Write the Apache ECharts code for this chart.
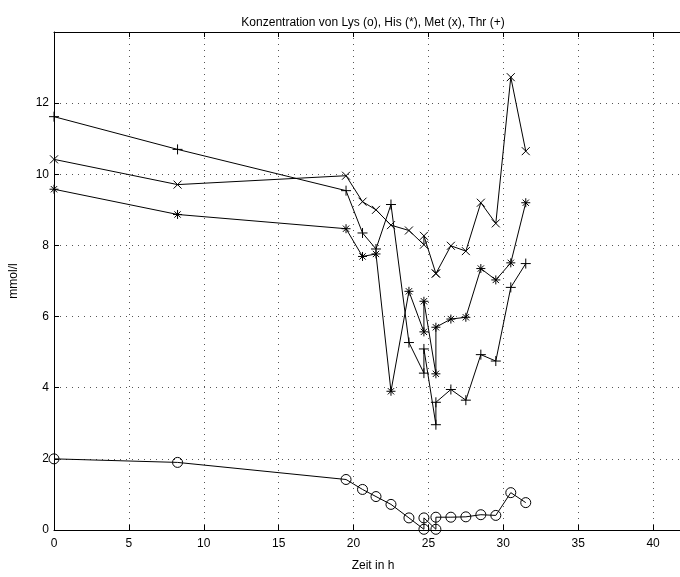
<!DOCTYPE html>
<html>
<head>
<meta charset="utf-8">
<script src="https://cdn.jsdelivr.net/npm/echarts@6/dist/echarts.min.js"></script>
<style>
html,body{margin:0;padding:0;background:#fff;overflow:hidden;width:680px;height:577px;}
#chart{width:700px;height:577px;}
</style>
</head>
<body>
<div id="chart"></div>
<script>
// Time points (h)
var time = [0, 8.25, 19.5, 20.6, 21.5, 22.5, 23.7, 24.7, 24.7, 25.5, 25.5, 26.5, 27.5, 28.5, 29.5, 30.5, 31.5];
// Concentrations (mmol/l)
var lys = [2.0, 1.9, 1.42, 1.14, 0.94, 0.72, 0.34, 0.02, 0.34, 0.02, 0.36, 0.36, 0.37, 0.43, 0.41, 1.05, 0.77];
var his = [9.58, 8.87, 8.47, 7.69, 7.76, 3.90, 6.71, 5.57, 6.43, 4.39, 5.70, 5.93, 5.98, 7.35, 7.03, 7.51, 9.20];
var met = [10.42, 9.71, 9.96, 9.23, 9.00, 8.57, 8.42, 8.02, 8.27, 7.21, 7.21, 7.99, 7.84, 9.20, 8.62, 12.73, 10.65];
var thr = [11.62, 10.70, 9.54, 8.35, 7.90, 9.15, 5.27, 4.41, 5.09, 2.96, 3.59, 3.95, 3.65, 4.93, 4.75, 6.82, 7.49];
var xTicks = [0, 5, 10, 15, 20, 25, 30, 35, 40];
var yTicks = [0, 2, 4, 6, 8, 10, 12];

var titleText = 'Konzentration von Lys (o), His (*), Met (x), Thr (+)';
var xName = 'Zeit in h';
var yName = 'mmol/l';

function pairs(ys){ return time.map(function(t,i){ return [t, ys[i]]; }); }

var FONT = '"Liberation Sans", Arial, Helvetica, sans-serif';
var symX = 'path://M0,0L10,10M10,0L0,10';
var symPlus = 'path://M5,0L5,10M0,5L10,5';
var symStar = 'path://M5,0L5,10M0,5L10,5M1.5,1.5L8.5,8.5M8.5,1.5L1.5,8.5';

function mk(name, ys, symbol, size){
  return {
    name: name, type: 'line', data: pairs(ys),
    symbol: symbol, symbolSize: size, showAllSymbol: true,
    lineStyle: {color: '#000', width: 1},
    itemStyle: {color: 'transparent', borderColor: '#000', borderWidth: 1},
    emphasis: {disabled: true},
    clip: false, z: 3
  };
}

var chart = echarts.init(document.getElementById('chart'), null, {renderer: 'canvas'});
var gridLine = {show: true, lineStyle: {color: '#555', width: 1, type: [1, 5]}};
chart.setOption({
  animation: false,
  backgroundColor: '#fff',
  textStyle: {fontFamily: FONT},
  grid: {left: 50, top: 32, right: 8, bottom: 40, containLabel: false},
  xAxis: [{
    type: 'value', min: 0, max: 42.6, interval: 5, position: 'bottom',
    name: xName, nameLocation: 'middle', nameGap: 30,
    nameTextStyle: {fontSize: 12, color: '#000', fontFamily: FONT},
    axisLine: {show: true, onZero: false, lineStyle: {color: '#000', width: 1}},
    axisTick: {show: true, inside: true, length: 5, lineStyle: {color: '#000'}},
    axisLabel: {fontSize: 12, color: '#000', margin: 8, fontFamily: FONT, showMaxLabel: false,
      formatter: function(v){ return xTicks.indexOf(v) >= 0 ? String(v) : ''; }},
    splitLine: gridLine
  }, {
    type: 'value', min: 0, max: 42.6, interval: 5, position: 'top',
    name: titleText, nameLocation: 'middle', nameGap: 3,
    nameTextStyle: {fontSize: 12, color: '#000', fontFamily: FONT},
    axisLine: {show: true, onZero: false, lineStyle: {color: '#000', width: 1}},
    axisTick: {show: true, inside: true, length: 5, lineStyle: {color: '#000'}},
    axisLabel: {show: false},
    splitLine: {show: false}
  }],
  yAxis: [{
    type: 'value', min: 0, max: 14, interval: 2,
    name: yName, nameLocation: 'middle', nameGap: 34,
    nameTextStyle: {fontSize: 12, color: '#000', fontFamily: FONT},
    axisLine: {show: true, onZero: false, lineStyle: {color: '#000', width: 1}},
    axisTick: {show: true, inside: true, length: 5, lineStyle: {color: '#000'}},
    axisLabel: {fontSize: 12, color: '#000', margin: 5, fontFamily: FONT, showMaxLabel: false,
      formatter: function(v){ return yTicks.indexOf(v) >= 0 ? String(v) : ''; }},
    splitLine: gridLine
  }],
  series: [
    mk('Lys', lys, 'circle', 10),
    mk('His', his, symStar, 9),
    mk('Met', met, symX, 8),
    mk('Thr', thr, symPlus, 10)
  ]
});
</script>
</body>
</html>
